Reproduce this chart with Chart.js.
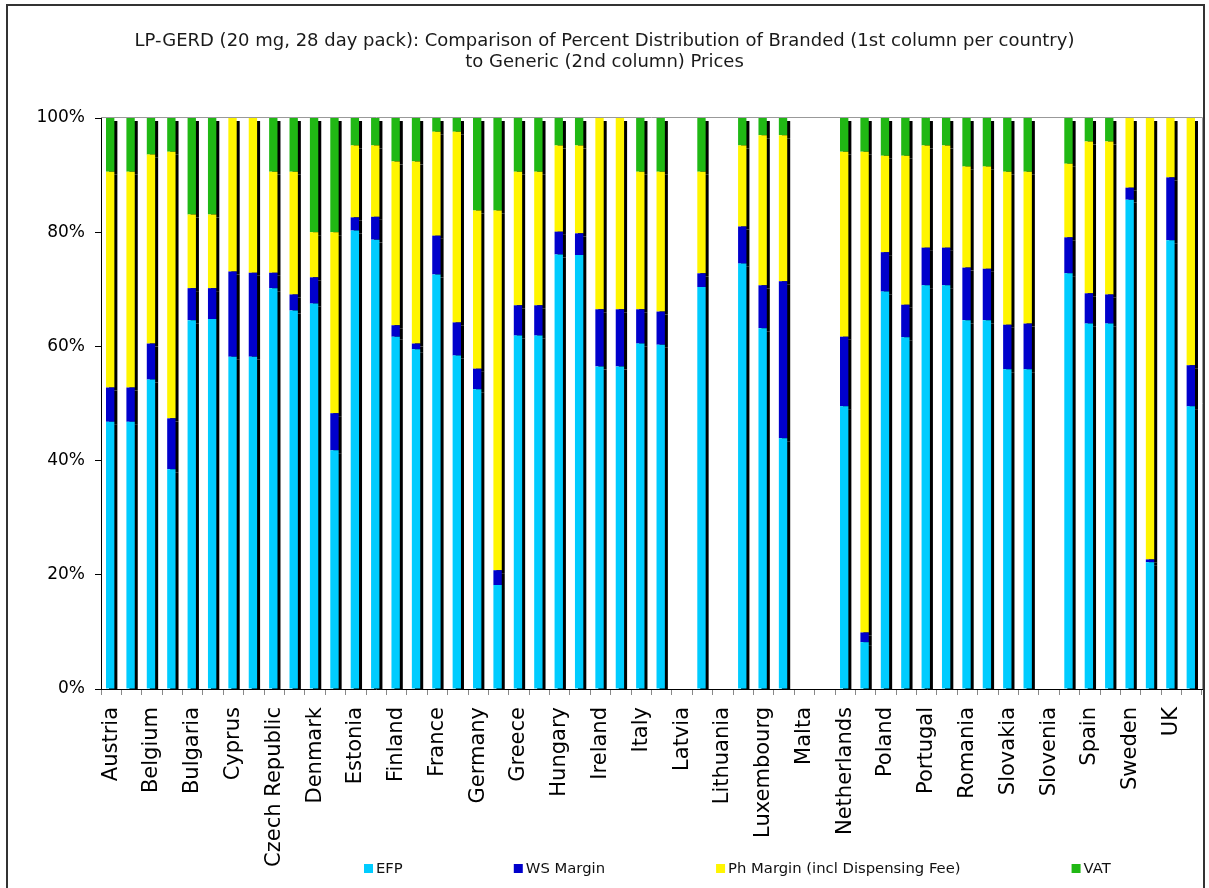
<!DOCTYPE html>
<html>
<head>
<meta charset="utf-8">
<script src="https://cdn.jsdelivr.net/npm/chart.js@4"></script>
<style>
html, body { margin: 0; padding: 0; background: #fff; }
</style>
</head>
<body>
<canvas id="myChart" width="1209" height="888"></canvas>
<script>
// countries, two columns each: branded then generic
const countries = ['Austria', 'Belgium', 'Bulgaria', 'Cyprus', 'Czech Republic', 'Denmark', 'Estonia',
    'Finland', 'France', 'Germany', 'Greece', 'Hungary', 'Ireland', 'Italy', 'Latvia', 'Lithuania',
    'Luxembourg', 'Malta', 'Netherlands', 'Poland', 'Portugal', 'Romania', 'Slovakia', 'Slovenia',
    'Spain', 'Sweden', 'UK'];

// percent shares, branded column
const efpBranded = [46.8, 54.2, 64.6, 58.2, 70.2, 67.5, 80.3, 61.7, 72.6, 52.5, 61.9, 76.1, 56.5, 60.5,
    null, null, 63.2, null, 49.5, 69.6, 70.7, 64.6, 56.0, null, 64.0, 85.7, 78.6];
const wsBranded = [6.0, 6.3, 5.6, 14.9, 2.7, 4.6, 2.3, 2.0, 6.8, 3.6, 5.3, 4.0, 10.0, 6.0,
    null, null, 7.5, null, 12.2, 6.9, 6.6, 9.2, 7.8, null, 5.3, 2.1, 11.0];
const phBranded = [37.8, 33.1, 12.9, 26.9, 17.7, 7.9, 12.6, 28.7, 18.2, 27.7, 23.4, 15.1, 33.5, 24.1,
    null, null, 26.3, null, 32.4, 16.9, 17.9, 17.7, 26.8, null, 26.6, 12.2, 10.4];
const vatBranded = [9.4, 6.4, 16.9, 0, 9.4, 20.0, 4.8, 7.6, 2.4, 16.2, 9.4, 4.8, 0, 9.4,
    null, null, 3.0, null, 5.9, 6.6, 4.8, 8.5, 9.4, null, 4.1, 0, 0];

// percent shares, generic column
const efpGeneric = [46.8, 38.5, 64.8, 58.2, 66.3, 41.8, 78.7, 59.5, 58.4, 18.2, 61.9, 76.0, 56.5, 60.3,
    70.4, 74.5, 43.9, null, 8.2, 61.6, 70.7, 64.6, 56.0, 72.8, 64.0, 22.2, 49.5];
const wsGeneric = [6.0, 8.9, 5.4, 14.7, 2.8, 6.5, 4.0, 1.0, 5.8, 2.6, 5.3, 3.8, 10.0, 5.8,
    2.4, 6.5, 27.5, null, 1.7, 5.7, 6.6, 9.0, 8.0, 6.3, 5.1, 0.5, 7.2];
const phGeneric = [37.8, 46.7, 12.9, 27.1, 21.5, 31.7, 12.5, 31.9, 33.4, 63.0, 23.4, 15.4, 33.5, 24.5,
    17.8, 14.2, 25.6, null, 84.2, 26.1, 17.9, 17.9, 26.6, 12.9, 26.8, 77.3, 43.3];
const vatGeneric = [9.4, 5.9, 16.9, 0, 9.4, 20.0, 4.8, 7.6, 2.4, 16.2, 9.4, 4.8, 0, 9.4,
    9.4, 4.8, 3.0, null, 5.9, 6.6, 4.8, 8.5, 9.4, 8.0, 4.1, 0, 0];

const yTicks = [0, 20, 40, 60, 80, 100];
const titleLines = ['LP-GERD (20 mg, 28 day pack): Comparison of Percent Distribution of Branded (1st column per country)',
    'to Generic (2nd column) Prices'];

const FONT = '"DejaVu Sans", Verdana, sans-serif';

// one label per country, blank under the generic column
var labels = [];
countries.forEach(function (c) { labels.push(c, ''); });

function pairUp(b, g) {
    var out = [];
    for (var i = 0; i < b.length; i++) { out.push(b[i], g[i]); }
    return out;
}

function series(label, b, g, color) {
    return {
        label: label,
        data: pairUp(b, g),
        backgroundColor: color,
        borderWidth: 0,
        barPercentage: 0.41,
        categoryPercentage: 1.0
    };
}

// frame, plot border, bar shadow and the legend row
const decor = {
    id: 'decor',
    beforeDraw(chart) {
        const c = chart.ctx;
        c.save();
        c.fillStyle = '#fff';
        c.fillRect(0, 0, chart.width, chart.height);
        c.strokeStyle = '#333';
        c.lineWidth = 2;
        c.strokeRect(7, 5, 1197, 920);
        c.restore();
    },
    beforeDatasetsDraw(chart) {
        const c = chart.ctx, a = chart.chartArea;
        c.save();
        c.strokeStyle = '#999';
        c.lineWidth = 1;
        c.beginPath();
        c.moveTo(a.left, a.top - 0.5);
        c.lineTo(a.right + 0.5, a.top - 0.5);
        c.lineTo(a.right + 0.5, a.bottom);
        c.stroke();
        c.restore();

        c.save();
        c.translate(-1, 0);
        c.shadowColor = '#000';
        c.shadowOffsetX = 3;
        c.shadowOffsetY = 3;
        c.shadowBlur = 0;
    },
    afterDatasetsDraw(chart) {
        chart.ctx.restore();
    },
    afterDraw(chart) {
        const c = chart.ctx;
        let x = 364;
        c.save();
        c.font = '14.8px ' + FONT;
        c.textBaseline = 'middle';
        chart.data.datasets.forEach(function (ds) {
            c.fillStyle = ds.backgroundColor;
            c.fillRect(x, 864, 9, 9);
            c.fillStyle = '#111';
            c.fillText(ds.label, x + 12, 869);
            x += 12 + c.measureText(ds.label).width + 111;
        });
        c.restore();
    }
};

const ctx = document.getElementById('myChart').getContext('2d');
const myChart = new Chart(ctx, {
    type: 'bar',
    data: {
        labels: labels,
        datasets: [
            series('EFP', efpBranded, efpGeneric, '#00CCFF'),
            series('WS Margin', wsBranded, wsGeneric, '#0000CC'),
            series('Ph Margin (incl Dispensing Fee)', phBranded, phGeneric, '#FFF500'),
            series('VAT', vatBranded, vatGeneric, '#20B814')
        ]
    },
    plugins: [decor],
    options: {
        responsive: false,
        animation: false,
        layout: { padding: { left: 7, right: 7, top: 0, bottom: 0 } },
        plugins: {
            legend: { display: false },
            tooltip: { enabled: false },
            title: {
                display: true,
                text: titleLines,
                color: '#1a1a1a',
                font: { family: FONT, size: 18, weight: 'normal', lineHeight: 1.17 },
                padding: { top: 31, bottom: 44.9 }
            }
        },
        scales: {
            x: {
                stacked: true,
                grid: { offset: true, drawOnChartArea: false, tickColor: '#888', tickLength: 6 },
                border: { color: '#000' },
                ticks: {
                    autoSkip: false, minRotation: 90, maxRotation: 90, padding: 12,
                    color: '#000', font: { family: FONT, size: 21 }
                },
                afterFit: function (s) {
                    s.height = 199;
                    s.paddingLeft = 0;
                    s.paddingRight = 0;
                }
            },
            y: {
                stacked: true,
                min: 0,
                max: 100,
                afterBuildTicks: function (s) { s.ticks = yTicks.map(function (v) { return { value: v }; }); },
                grid: { drawOnChartArea: false, tickColor: '#000', tickLength: 6 },
                border: { color: '#000' },
                ticks: {
                    padding: 10, color: '#000', font: { family: FONT, size: 17 },
                    callback: function (v) { return v + '%'; }
                },
                afterFit: function (s) { s.width = 94; }
            }
        }
    }
});
</script>
</body>
</html>
